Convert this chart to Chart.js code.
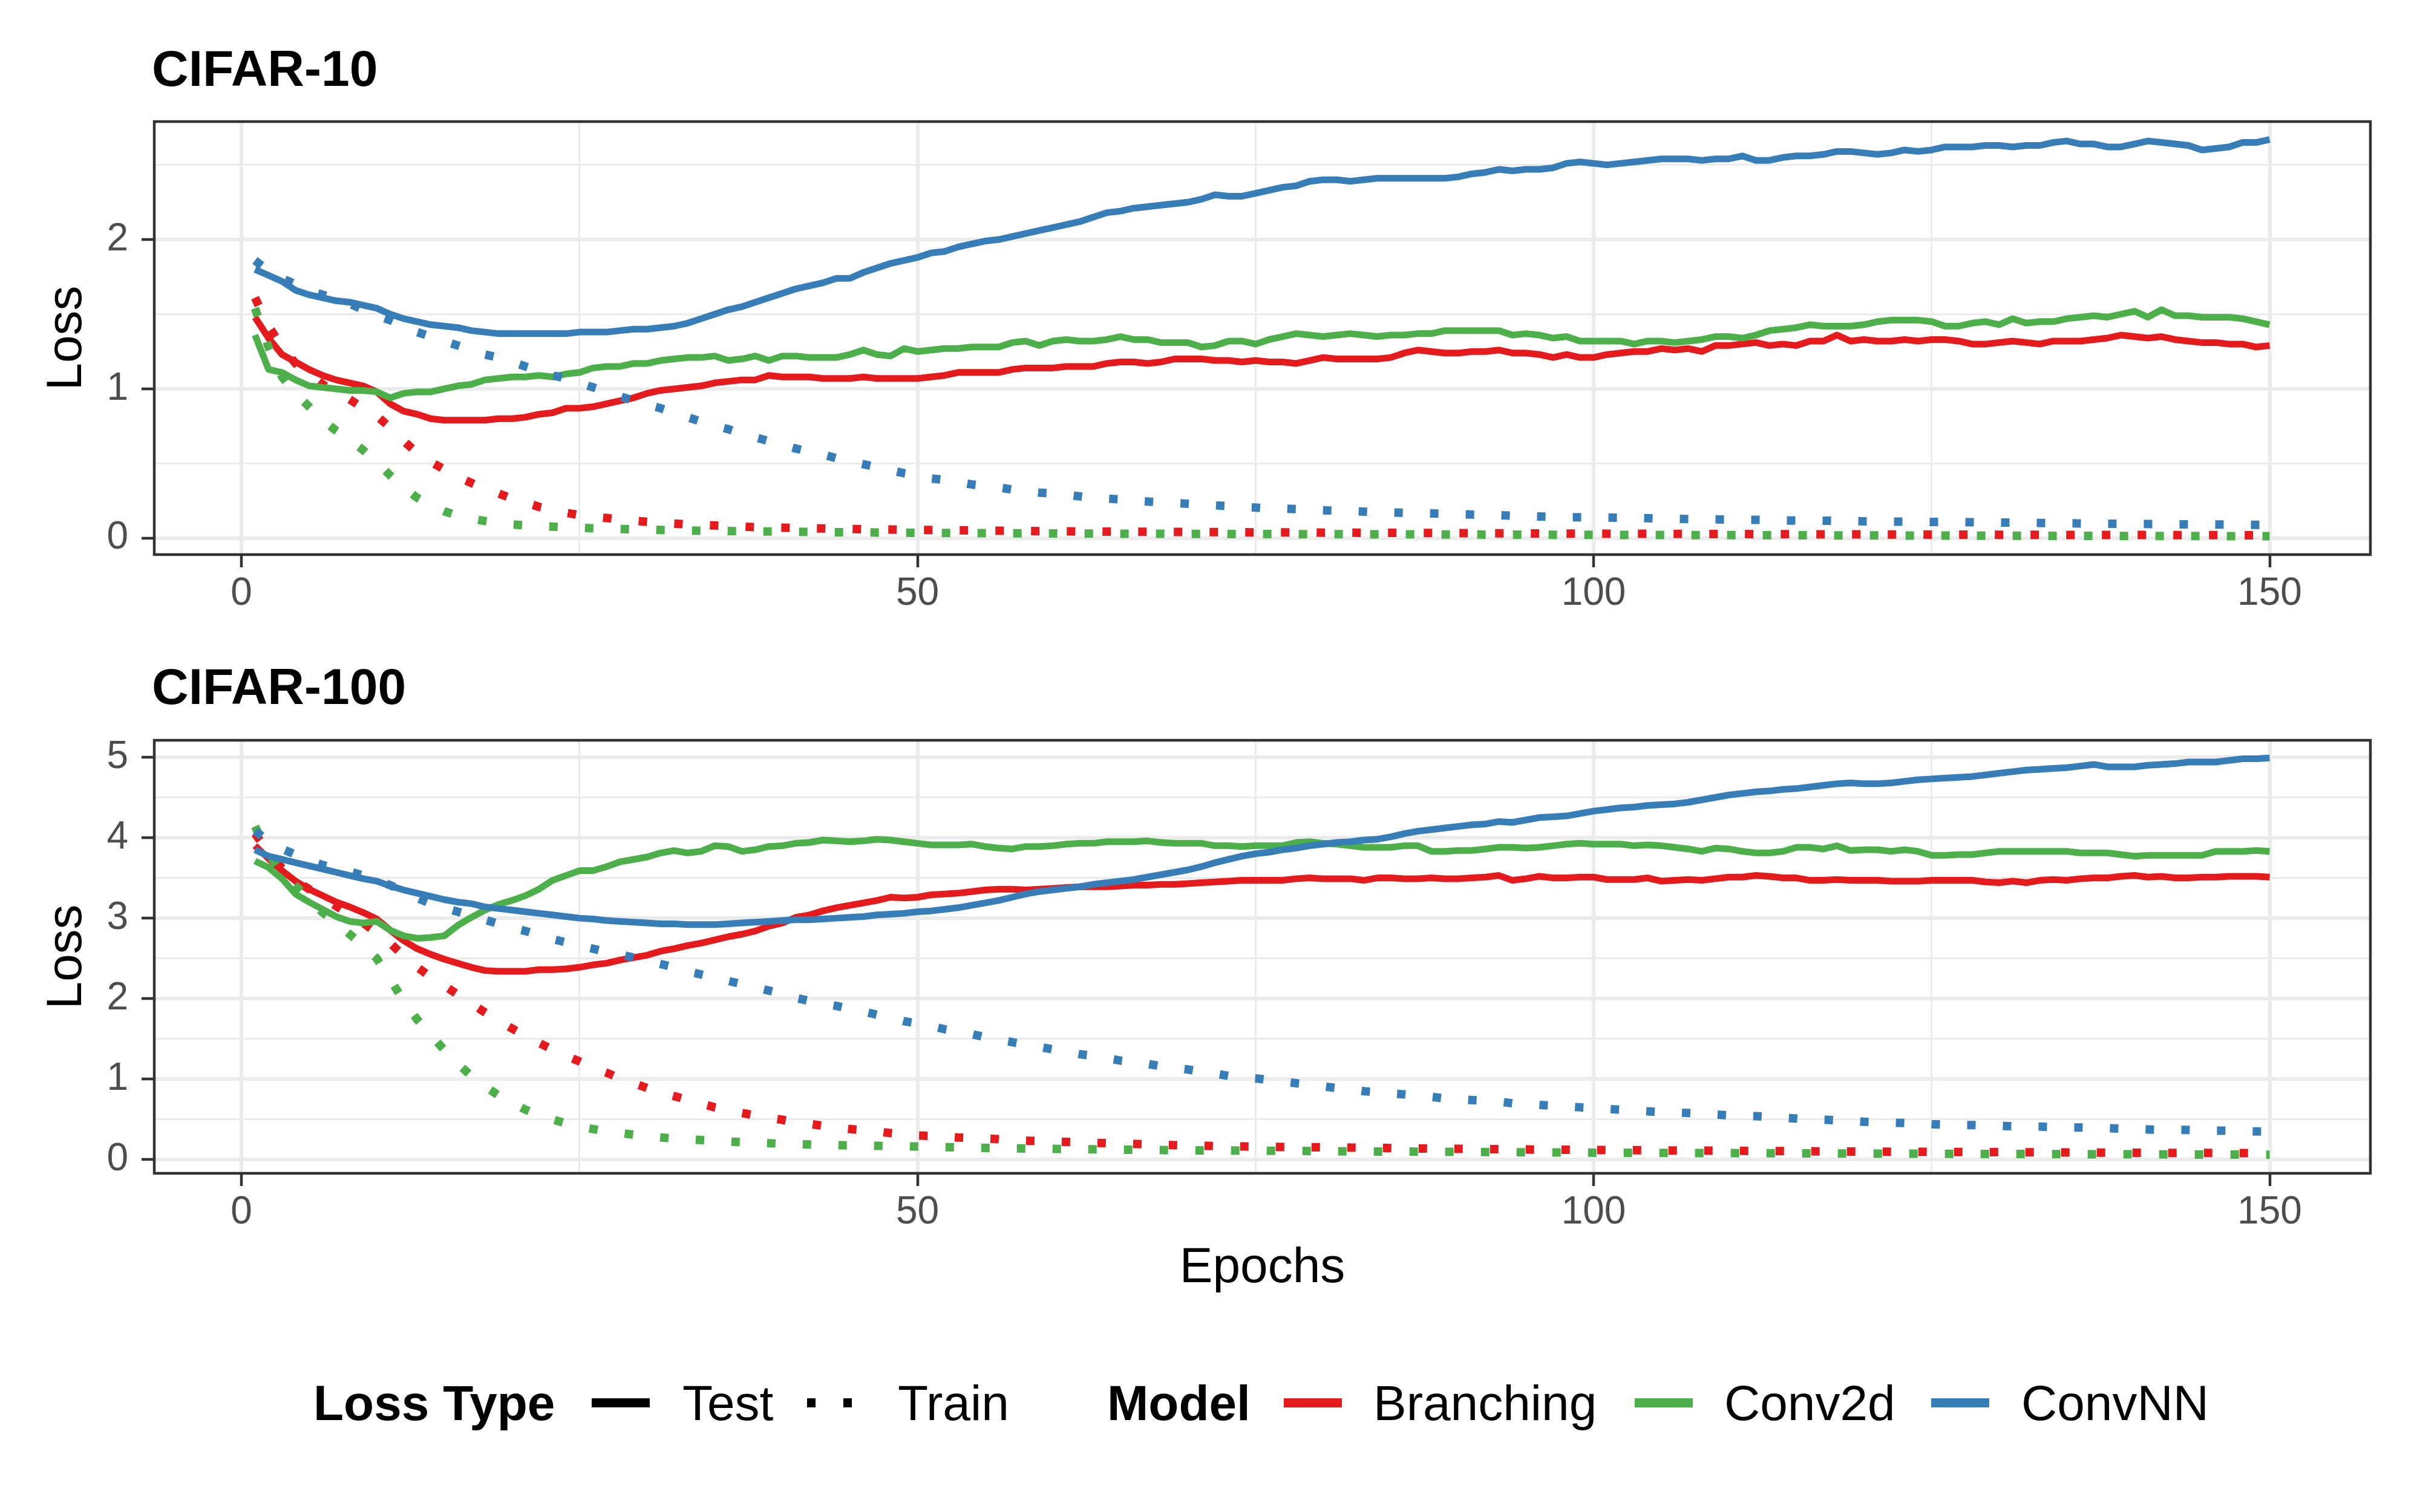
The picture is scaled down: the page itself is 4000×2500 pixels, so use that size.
<!DOCTYPE html>
<html><head><meta charset="utf-8">
<script src="https://cdn.jsdelivr.net/npm/chart.js@4.4.0/dist/chart.umd.min.js"></script>
<style>
html,body{margin:0;padding:0;background:#fff;}
body{width:4000px;height:2500px;position:relative;overflow:hidden;font-family:"Liberation Sans",Arial,Helvetica,sans-serif;}
.t{position:absolute;white-space:nowrap;line-height:100px;color:#000;}
.ttl{font-size:84px;font-weight:bold;}
.lg{font-size:82px;}
.b{font-weight:bold;}
#c1{position:absolute;left:0;top:0;}
#c2{position:absolute;left:0;top:1040px;}
.key{position:absolute;height:15px;top:2312px;}
</style></head><body>
<div class="t ttl" style="left:251px;top:63px">CIFAR-10</div>
<div class="t ttl" style="left:251px;top:1085px">CIFAR-100</div>
<canvas id="c1" width="4000" height="1040"></canvas>
<canvas id="c2" width="4000" height="1160"></canvas>

<div class="t lg b" style="left:518px;top:2270px">Loss Type</div>
<div class="key" style="left:978px;width:96px;background:#000"></div>
<div class="t lg" style="left:1128px;top:2270px">Test</div>
<div class="key" style="left:1334px;width:14px;background:#000"></div>
<div class="key" style="left:1394px;width:14px;background:#000"></div>
<div class="t lg" style="left:1484px;top:2270px">Train</div>
<div class="t lg b" style="left:1830px;top:2270px">Model</div>
<div class="key" style="left:2122px;width:96px;background:#E41A1C"></div>
<div class="t lg" style="left:2270px;top:2270px">Branching</div>
<div class="key" style="left:2702px;width:96px;background:#4DAF4A"></div>
<div class="t lg" style="left:2850px;top:2270px">Conv2d</div>
<div class="key" style="left:3192px;width:96px;background:#377EB8"></div>
<div class="t lg" style="left:3341px;top:2270px">ConvNN</div>

<script>
const epochs = Array.from({length:150},(_,i)=>i+1);
const xMajor=[0,50,100,150], xMinor=[25,75,125];
const c10YMajor=[0,1,2], c10YMinor=[0.5,1.5,2.5];
const c100YMajor=[0,1,2,3,4,5], c100YMinor=[0.5,1.5,2.5,3.5,4.5];
const models=['Branching','Conv2d','ConvNN'];
const lossTypes=['Test','Train'];
const modelColors=['#E41A1C','#4DAF4A','#377EB8'];

// CIFAR-10
const c10BranchingTest=[
1.48,1.34,1.23,1.18,1.13,1.09,1.06,1.04,1.02,0.98,
0.90,0.85,0.83,0.80,0.79,0.79,0.79,0.79,0.80,0.80,
0.81,0.83,0.84,0.87,0.87,0.88,0.90,0.92,0.94,0.97,
0.99,1.00,1.01,1.02,1.04,1.05,1.06,1.06,1.09,1.08,
1.08,1.08,1.07,1.07,1.07,1.08,1.07,1.07,1.07,1.07,
1.08,1.09,1.11,1.11,1.11,1.11,1.13,1.14,1.14,1.14,
1.15,1.15,1.15,1.17,1.18,1.18,1.17,1.18,1.20,1.20,
1.20,1.19,1.19,1.18,1.19,1.18,1.18,1.17,1.19,1.21,
1.20,1.20,1.20,1.20,1.21,1.24,1.26,1.25,1.24,1.24,
1.25,1.25,1.26,1.24,1.24,1.23,1.21,1.23,1.21,1.21,
1.23,1.24,1.25,1.25,1.27,1.26,1.27,1.25,1.29,1.29,
1.30,1.31,1.29,1.30,1.29,1.32,1.32,1.36,1.32,1.33,
1.32,1.32,1.33,1.32,1.33,1.33,1.32,1.30,1.30,1.31,
1.32,1.31,1.30,1.32,1.32,1.32,1.33,1.34,1.36,1.35,
1.34,1.35,1.33,1.32,1.31,1.31,1.30,1.30,1.28,1.29];
const c10Conv2dTest=[
1.36,1.13,1.11,1.06,1.02,1.01,1.00,0.99,0.99,0.98,
0.94,0.97,0.98,0.98,1.00,1.02,1.03,1.06,1.07,1.08,
1.08,1.09,1.08,1.10,1.11,1.14,1.15,1.15,1.17,1.17,
1.19,1.20,1.21,1.21,1.22,1.19,1.20,1.22,1.19,1.22,
1.22,1.21,1.21,1.21,1.23,1.26,1.23,1.22,1.27,1.25,
1.26,1.27,1.27,1.28,1.28,1.28,1.31,1.32,1.29,1.32,
1.33,1.32,1.32,1.33,1.35,1.33,1.33,1.31,1.31,1.31,
1.28,1.29,1.32,1.32,1.30,1.33,1.35,1.37,1.36,1.35,
1.36,1.37,1.36,1.35,1.36,1.36,1.37,1.37,1.39,1.39,
1.39,1.39,1.39,1.36,1.37,1.36,1.34,1.35,1.32,1.32,
1.32,1.32,1.30,1.32,1.32,1.31,1.32,1.33,1.35,1.35,
1.34,1.36,1.39,1.40,1.41,1.43,1.42,1.42,1.42,1.43,
1.45,1.46,1.46,1.46,1.45,1.42,1.42,1.44,1.45,1.43,
1.47,1.44,1.45,1.45,1.47,1.48,1.49,1.48,1.50,1.52,
1.48,1.53,1.49,1.49,1.48,1.48,1.48,1.47,1.45,1.43];
const c10ConvNNTest=[
1.80,1.76,1.72,1.66,1.63,1.61,1.59,1.58,1.56,1.54,
1.50,1.47,1.45,1.43,1.42,1.41,1.39,1.38,1.37,1.37,
1.37,1.37,1.37,1.37,1.38,1.38,1.38,1.39,1.40,1.40,
1.41,1.42,1.44,1.47,1.50,1.53,1.55,1.58,1.61,1.64,
1.67,1.69,1.71,1.74,1.74,1.78,1.81,1.84,1.86,1.88,
1.91,1.92,1.95,1.97,1.99,2.00,2.02,2.04,2.06,2.08,
2.10,2.12,2.15,2.18,2.19,2.21,2.22,2.23,2.24,2.25,
2.27,2.30,2.29,2.29,2.31,2.33,2.35,2.36,2.39,2.40,
2.40,2.39,2.40,2.41,2.41,2.41,2.41,2.41,2.41,2.42,
2.44,2.45,2.47,2.46,2.47,2.47,2.48,2.51,2.52,2.51,
2.50,2.51,2.52,2.53,2.54,2.54,2.54,2.53,2.54,2.54,
2.56,2.53,2.53,2.55,2.56,2.56,2.57,2.59,2.59,2.58,
2.57,2.58,2.60,2.59,2.60,2.62,2.62,2.62,2.63,2.63,
2.62,2.63,2.63,2.65,2.66,2.64,2.64,2.62,2.62,2.64,
2.66,2.65,2.64,2.63,2.60,2.61,2.62,2.65,2.65,2.67];
const c10BranchingTrain=[
1.61,1.42,1.28,1.17,1.10,1.03,0.98,0.93,0.87,0.82,
0.74,0.65,0.57,0.51,0.46,0.41,0.37,0.33,0.30,0.265,
0.24,0.21,0.19,0.17,0.155,0.145,0.135,0.125,0.118,0.11,
0.104,0.098,0.093,0.089,0.085,0.081,0.077,0.074,0.072,0.070,
0.068,0.066,0.065,0.063,0.062,0.060,0.059,0.058,0.057,0.056,
0.055,0.054,0.053,0.052,0.051,0.050,0.049,0.048,0.047,0.047,
0.046,0.045,0.045,0.044,0.044,0.043,0.043,0.042,0.042,0.041,
0.041,0.041,0.040,0.040,0.039,0.039,0.039,0.038,0.038,0.037,
0.037,0.037,0.036,0.036,0.036,0.035,0.035,0.035,0.034,0.034,
0.034,0.033,0.033,0.033,0.032,0.032,0.032,0.031,0.031,0.031,
0.030,0.030,0.030,0.030,0.029,0.029,0.029,0.028,0.028,0.028,
0.028,0.027,0.027,0.027,0.027,0.026,0.026,0.026,0.026,0.025,
0.025,0.025,0.025,0.025,0.024,0.024,0.024,0.024,0.024,0.023,
0.023,0.023,0.023,0.023,0.022,0.022,0.022,0.022,0.022,0.022,
0.021,0.021,0.021,0.021,0.021,0.021,0.020,0.020,0.020,0.020];
const c10Conv2dTrain=[
1.54,1.28,1.08,0.97,0.88,0.79,0.72,0.66,0.59,0.51,
0.42,0.34,0.27,0.22,0.18,0.15,0.13,0.115,0.102,0.092,
0.086,0.081,0.077,0.073,0.069,0.066,0.063,0.061,0.059,0.057,
0.055,0.053,0.052,0.050,0.049,0.048,0.047,0.046,0.045,0.044,
0.043,0.042,0.041,0.040,0.040,0.039,0.038,0.038,0.037,0.036,
0.036,0.035,0.035,0.034,0.034,0.033,0.033,0.033,0.032,0.032,
0.032,0.031,0.031,0.031,0.030,0.030,0.030,0.030,0.029,0.029,
0.029,0.029,0.028,0.028,0.028,0.028,0.027,0.027,0.027,0.027,
0.027,0.026,0.026,0.026,0.026,0.026,0.025,0.025,0.025,0.025,
0.025,0.024,0.024,0.024,0.024,0.024,0.023,0.023,0.023,0.023,
0.023,0.022,0.022,0.022,0.022,0.022,0.021,0.021,0.021,0.021,
0.021,0.020,0.020,0.020,0.020,0.020,0.019,0.019,0.019,0.019,
0.019,0.018,0.018,0.018,0.018,0.018,0.017,0.017,0.017,0.017,
0.017,0.017,0.016,0.016,0.016,0.016,0.016,0.016,0.015,0.015,
0.015,0.015,0.015,0.015,0.015,0.014,0.014,0.014,0.014,0.014];
const c10ConvNNTrain=[
1.86,1.79,1.74,1.70,1.66,1.63,1.60,1.57,1.53,1.49,
1.46,1.42,1.38,1.35,1.32,1.29,1.26,1.23,1.21,1.18,
1.15,1.12,1.09,1.07,1.04,1.01,0.98,0.95,0.92,0.895,
0.87,0.84,0.81,0.78,0.755,0.73,0.70,0.675,0.65,0.625,
0.60,0.58,0.56,0.535,0.515,0.495,0.475,0.455,0.435,0.42,
0.40,0.39,0.375,0.36,0.35,0.34,0.325,0.315,0.305,0.30,
0.29,0.28,0.27,0.265,0.26,0.25,0.245,0.24,0.235,0.23,
0.225,0.22,0.215,0.21,0.205,0.20,0.198,0.195,0.19,0.187,
0.184,0.181,0.178,0.175,0.172,0.17,0.167,0.165,0.163,0.16,
0.158,0.156,0.154,0.151,0.148,0.145,0.143,0.141,0.140,0.139,
0.138,0.137,0.136,0.134,0.132,0.130,0.128,0.127,0.126,0.125,
0.124,0.123,0.121,0.119,0.118,0.118,0.117,0.116,0.114,0.113,
0.112,0.111,0.111,0.110,0.109,0.108,0.108,0.107,0.106,0.105,
0.104,0.103,0.102,0.101,0.100,0.099,0.098,0.097,0.097,0.096,
0.095,0.094,0.093,0.093,0.092,0.091,0.091,0.090,0.089,0.089];

// CIFAR-100
const c100BranchingTest=[
3.90,3.74,3.59,3.46,3.36,3.28,3.20,3.14,3.07,2.99,
2.85,2.72,2.62,2.55,2.49,2.44,2.39,2.35,2.34,2.34,
2.34,2.36,2.36,2.37,2.39,2.42,2.44,2.48,2.51,2.54,
2.59,2.62,2.66,2.69,2.73,2.77,2.80,2.84,2.90,2.94,
3.01,3.04,3.09,3.13,3.16,3.19,3.22,3.26,3.25,3.26,
3.29,3.30,3.31,3.33,3.35,3.36,3.36,3.35,3.36,3.37,
3.38,3.39,3.39,3.39,3.40,3.41,3.41,3.42,3.42,3.43,
3.44,3.45,3.46,3.47,3.47,3.47,3.47,3.49,3.50,3.49,
3.49,3.49,3.47,3.50,3.50,3.49,3.49,3.50,3.49,3.49,
3.50,3.51,3.53,3.47,3.49,3.52,3.50,3.50,3.51,3.51,
3.48,3.48,3.48,3.50,3.46,3.47,3.48,3.47,3.49,3.51,
3.51,3.53,3.52,3.50,3.50,3.47,3.47,3.48,3.47,3.47,
3.47,3.46,3.46,3.46,3.47,3.47,3.47,3.47,3.45,3.44,
3.46,3.44,3.47,3.48,3.47,3.49,3.50,3.50,3.52,3.53,
3.51,3.52,3.50,3.50,3.51,3.51,3.52,3.52,3.52,3.51];
const c100Conv2dTest=[
3.71,3.63,3.49,3.30,3.20,3.11,3.02,2.96,2.94,2.96,
2.85,2.78,2.75,2.76,2.78,2.91,3.01,3.10,3.17,3.22,
3.28,3.36,3.47,3.53,3.59,3.59,3.64,3.70,3.73,3.76,
3.81,3.84,3.81,3.83,3.90,3.89,3.83,3.85,3.89,3.90,
3.93,3.94,3.97,3.96,3.95,3.96,3.98,3.97,3.95,3.93,
3.91,3.91,3.91,3.92,3.89,3.87,3.86,3.89,3.89,3.90,
3.92,3.93,3.93,3.95,3.95,3.95,3.96,3.94,3.93,3.93,
3.93,3.90,3.90,3.89,3.90,3.90,3.90,3.94,3.95,3.93,
3.92,3.90,3.88,3.88,3.88,3.90,3.90,3.83,3.83,3.84,
3.84,3.86,3.88,3.88,3.87,3.88,3.90,3.92,3.93,3.92,
3.92,3.92,3.90,3.91,3.90,3.88,3.86,3.83,3.87,3.86,
3.83,3.81,3.81,3.83,3.88,3.88,3.86,3.90,3.84,3.85,
3.85,3.83,3.85,3.83,3.78,3.78,3.79,3.79,3.81,3.83,
3.83,3.83,3.83,3.83,3.83,3.81,3.81,3.81,3.79,3.77,
3.78,3.78,3.78,3.78,3.78,3.83,3.83,3.83,3.84,3.83];
const c100ConvNNTest=[
3.85,3.77,3.73,3.69,3.65,3.61,3.57,3.53,3.49,3.46,
3.40,3.35,3.31,3.27,3.23,3.20,3.18,3.14,3.12,3.10,
3.08,3.06,3.04,3.02,3.00,2.99,2.97,2.96,2.95,2.94,
2.93,2.93,2.92,2.92,2.92,2.93,2.94,2.95,2.96,2.97,
2.98,2.98,2.99,3.00,3.01,3.02,3.04,3.05,3.06,3.08,
3.09,3.11,3.13,3.16,3.19,3.22,3.26,3.30,3.33,3.35,
3.37,3.39,3.42,3.44,3.46,3.48,3.51,3.54,3.57,3.60,
3.64,3.69,3.73,3.77,3.80,3.82,3.85,3.87,3.90,3.92,
3.94,3.95,3.97,3.98,4.01,4.05,4.08,4.10,4.12,4.14,
4.16,4.17,4.20,4.19,4.22,4.25,4.26,4.27,4.30,4.33,
4.35,4.37,4.38,4.40,4.41,4.42,4.44,4.47,4.50,4.53,
4.55,4.57,4.58,4.60,4.61,4.63,4.65,4.67,4.68,4.67,
4.67,4.68,4.70,4.72,4.73,4.74,4.75,4.76,4.78,4.80,
4.82,4.84,4.85,4.86,4.87,4.89,4.91,4.88,4.88,4.88,
4.90,4.91,4.92,4.94,4.94,4.94,4.96,4.98,4.98,4.99];
const c100BranchingTrain=[
4.05,3.82,3.62,3.47,3.36,3.26,3.15,3.05,2.94,2.82,
2.69,2.53,2.39,2.27,2.16,2.05,1.94,1.83,1.73,1.63,
1.54,1.45,1.37,1.29,1.22,1.14,1.08,1.01,0.95,0.89,
0.84,0.79,0.74,0.695,0.65,0.615,0.58,0.55,0.52,0.495,
0.465,0.445,0.42,0.40,0.38,0.365,0.35,0.33,0.315,0.30,
0.295,0.285,0.275,0.27,0.26,0.255,0.24,0.235,0.23,0.225,
0.22,0.215,0.21,0.205,0.20,0.195,0.19,0.185,0.18,0.175,
0.172,0.169,0.166,0.164,0.162,0.159,0.157,0.155,0.153,0.152,
0.150,0.149,0.148,0.146,0.144,0.141,0.139,0.137,0.135,0.134,
0.133,0.131,0.130,0.128,0.126,0.125,0.124,0.123,0.122,0.120,
0.119,0.118,0.117,0.116,0.115,0.114,0.113,0.112,0.111,0.110,
0.109,0.108,0.107,0.106,0.105,0.104,0.103,0.102,0.101,0.100,
0.099,0.099,0.098,0.097,0.096,0.096,0.095,0.094,0.093,0.093,
0.092,0.091,0.091,0.090,0.089,0.089,0.088,0.087,0.087,0.086,
0.086,0.085,0.084,0.084,0.083,0.083,0.082,0.081,0.081,0.080];
const c100Conv2dTrain=[
4.14,3.80,3.56,3.40,3.24,3.07,2.94,2.80,2.66,2.50,
2.24,1.97,1.74,1.55,1.36,1.19,1.04,0.91,0.80,0.71,
0.62,0.55,0.50,0.45,0.41,0.38,0.35,0.33,0.31,0.29,
0.275,0.262,0.252,0.243,0.234,0.225,0.217,0.21,0.204,0.198,
0.193,0.188,0.184,0.180,0.177,0.174,0.171,0.168,0.165,0.162,
0.158,0.155,0.152,0.149,0.146,0.143,0.140,0.138,0.136,0.134,
0.132,0.130,0.128,0.126,0.124,0.122,0.121,0.119,0.117,0.116,
0.115,0.114,0.113,0.112,0.111,0.110,0.109,0.108,0.107,0.106,
0.104,0.103,0.102,0.101,0.100,0.100,0.099,0.098,0.097,0.096,
0.095,0.094,0.093,0.092,0.091,0.090,0.089,0.088,0.087,0.086,
0.085,0.085,0.084,0.084,0.083,0.083,0.082,0.082,0.081,0.081,
0.080,0.080,0.079,0.079,0.078,0.078,0.077,0.077,0.076,0.076,
0.075,0.075,0.074,0.074,0.073,0.073,0.072,0.072,0.071,0.071,
0.070,0.070,0.069,0.069,0.068,0.068,0.067,0.067,0.066,0.066,
0.065,0.065,0.064,0.064,0.063,0.063,0.062,0.062,0.061,0.061];
const c100ConvNNTrain=[
4.08,3.96,3.86,3.79,3.72,3.66,3.62,3.58,3.53,3.47,
3.41,3.33,3.25,3.18,3.13,3.08,3.03,2.98,2.93,2.88,
2.84,2.79,2.74,2.70,2.66,2.62,2.58,2.55,2.51,2.47,
2.43,2.39,2.34,2.30,2.26,2.22,2.18,2.14,2.10,2.06,
2.01,1.97,1.94,1.91,1.87,1.84,1.80,1.76,1.72,1.69,
1.66,1.62,1.59,1.56,1.52,1.49,1.46,1.43,1.40,1.37,
1.34,1.31,1.29,1.26,1.23,1.21,1.19,1.16,1.14,1.12,
1.09,1.07,1.04,1.02,1.01,0.99,0.97,0.95,0.93,0.91,
0.89,0.87,0.85,0.84,0.82,0.81,0.79,0.78,0.76,0.75,
0.74,0.73,0.72,0.70,0.69,0.68,0.67,0.66,0.65,0.64,
0.63,0.62,0.61,0.60,0.59,0.585,0.58,0.57,0.56,0.55,
0.545,0.54,0.53,0.52,0.51,0.50,0.495,0.49,0.48,0.47,
0.465,0.46,0.455,0.45,0.44,0.435,0.43,0.43,0.425,0.42,
0.415,0.41,0.41,0.405,0.40,0.40,0.395,0.39,0.385,0.38,
0.375,0.37,0.37,0.37,0.365,0.36,0.36,0.355,0.35,0.35];

Chart.defaults.font.family='"Liberation Sans", Arial, Helvetica, sans-serif';

function makeSets(testArrs, trainArrs){
  const sets=[]; let order=5;
  models.forEach((m,i)=>{
    [testArrs[i], trainArrs[i]].forEach((arr,k)=>{
      const dotted = k===1;
      sets.push({
        label: m+' '+lossTypes[k],
        data: epochs.map((e,j)=>({x:e,y:arr[j]})),
        borderColor: modelColors[i],
        backgroundColor: modelColors[i],
        borderWidth: dotted?14:11,
        borderDash: dotted?[14,45]:[],
        borderCapStyle:'butt',
        borderJoinStyle:'round',
        pointRadius:0, pointHoverRadius:0,
        tension:0, fill:false,
        order: order--
      });
    });
  });
  return sets;
}

const panelBorder={id:'panelBorder',afterDatasetsDraw(chart){
  const {ctx,chartArea:a}=chart; ctx.save();
  ctx.strokeStyle='#333333'; ctx.lineWidth=4.5;
  ctx.strokeRect(a.left,a.top,a.right-a.left,a.bottom-a.top); ctx.restore();
}};

function gridOpts(major){
  return {
    color:'#EBEBEB',
    lineWidth:(c)=> (c.tick && major.includes(c.tick.value))?6:3,
    tickColor:(c)=> (c.tick && major.includes(c.tick.value))?'#333333':'rgba(0,0,0,0)',
    tickWidth:4.5,
    tickLength:21,
    drawTicks:true,
    drawOnChartArea:true
  };
}

function makeChart(id, sets, yMin, yMax, yMajor, yMinor, padTop, xHeight, showXTitle){
  return new Chart(document.getElementById(id),{
    type:'line',
    data:{datasets:sets},
    plugins:[panelBorder],
    options:{
      responsive:false, animation:false, devicePixelRatio:1,
      layout:{padding:{left:0,right:82,top:padTop,bottom:0}},
      plugins:{legend:{display:false},title:{display:false},tooltip:{enabled:false}},
      scales:{
        x:{type:'linear',min:-6.45,max:157.45,
          afterBuildTicks:(s)=>{s.ticks=[...xMajor,...xMinor].sort((a,b)=>a-b).map(v=>({value:v}));},
          afterFit:(s)=>{s.height=xHeight;},
          grid:gridOpts(xMajor), border:{display:false},
          ticks:{autoSkip:false,maxRotation:0,minRotation:0,padding:6,color:'#4D4D4D',font:{size:64},
            callback:(v)=> xMajor.includes(v)?String(v):''},
          title:{display:showXTitle,text:'Epochs',color:'#000',font:{size:82},padding:{top:0,bottom:53}}
        },
        y:{type:'linear',min:yMin,max:yMax,
          afterBuildTicks:(s)=>{s.ticks=[...yMajor,...yMinor].sort((a,b)=>a-b).map(v=>({value:v}));},
          afterFit:(s)=>{s.width=255;},
          grid:gridOpts(yMajor), border:{display:false},
          ticks:{autoSkip:false,padding:22,color:'#4D4D4D',font:{size:64},
            callback:(v)=> yMajor.includes(v)?String(v):''},
          title:{display:true,text:'Loss',color:'#000',font:{size:82},padding:{top:62,bottom:0}}
        }
      }
    }
  });
}

makeChart('c1',
  makeSets([c10BranchingTest,c10Conv2dTest,c10ConvNNTest],[c10BranchingTrain,c10Conv2dTrain,c10ConvNNTrain]),
  -0.11, 2.79, c10YMajor, c10YMinor, 201, 123, false);
makeChart('c2',
  makeSets([c100BranchingTest,c100Conv2dTest,c100ConvNNTest],[c100BranchingTrain,c100Conv2dTrain,c100ConvNNTrain]),
  -0.17, 5.21, c100YMajor, c100YMinor, 184, 260, true);
</script>
</body></html>
